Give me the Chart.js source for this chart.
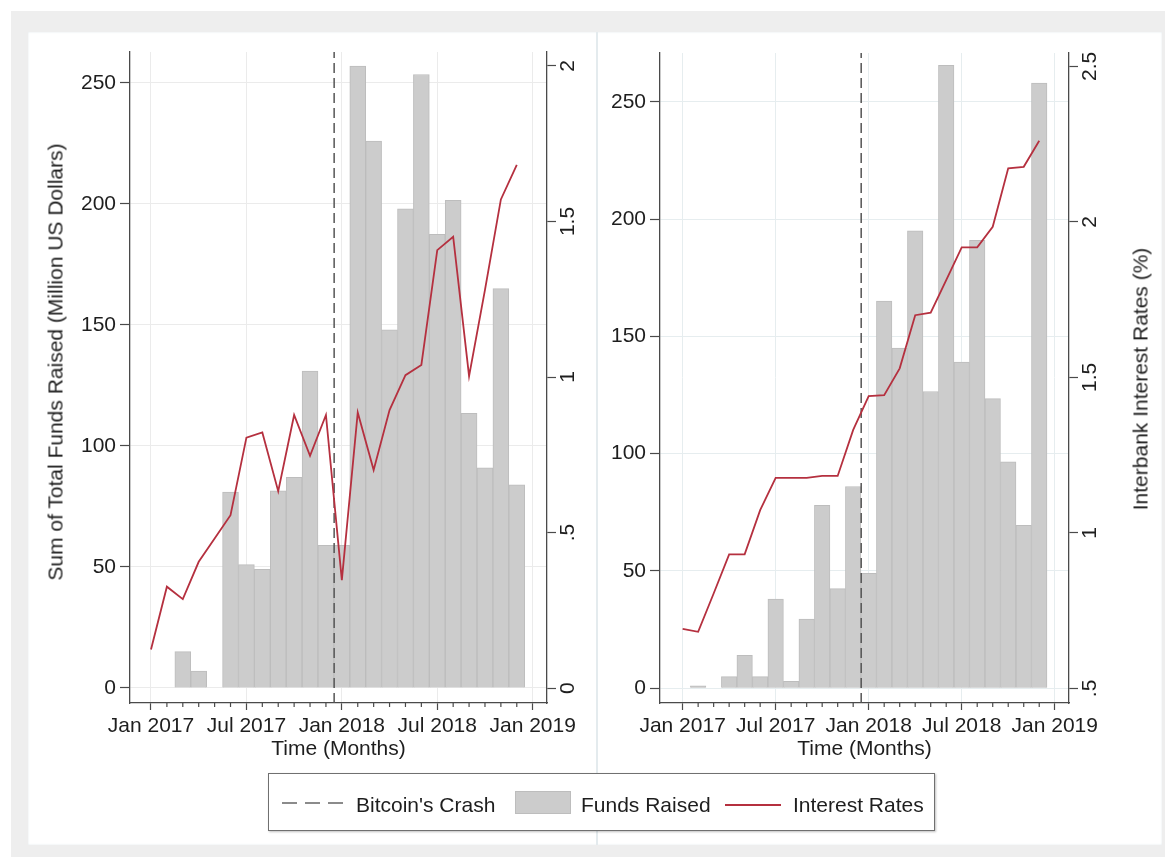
<!DOCTYPE html>
<html>
<head>
<meta charset="utf-8">
<script src="https://cdn.jsdelivr.net/npm/chart.js@4.4.0/dist/chart.umd.min.js"></script>
<style>
  html, body { margin: 0; padding: 0; background: #ffffff; }
  body { width: 1165px; height: 857px; position: relative; overflow: hidden;
         font-family: "Liberation Sans", Arial, Helvetica, sans-serif; color: #1e1e1e; }
  #frame { position: absolute; left: 11px; top: 11px; width: 1154px; height: 846px; background: #eeeeee; }
  #sheet { position: absolute; left: 28px; top: 32px; width: 1134px; height: 813px; background: #ffffff;
           box-shadow: inset 0 0 2px #dbe4e8; }
  #divider { position: absolute; left: 596px; top: 32px; width: 2px; height: 813px; background: #e4ebee; }
  canvas { position: absolute; }
  #cL { left: 28px; top: 32px; }
  #cR { left: 599px; top: 32px; }
  .ytitle { position: absolute; font-size: 21px; line-height: 1; white-space: nowrap; color: #1e1e1e;
            transform: translate(-50%, -50%) rotate(-90deg); }
  #legend { position: absolute; left: 268px; top: 773px; width: 665px; height: 56px; background: #fff;
            border: 1.5px solid #707070; box-shadow: 1px 1px 2px rgba(0,0,0,0.25); }
  .lg { position: absolute; font-size: 21px; line-height: 1; white-space: nowrap; color: #1e1e1e; }
  .sw { position: absolute; }
</style>
</head>
<body>
<div id="frame"></div>
<div id="sheet"></div>
<div id="divider"></div>
<canvas id="cL" width="569" height="740"></canvas>
<canvas id="cR" width="563" height="740"></canvas>
<div class="ytitle" style="left:55px; top:362px;">Sum of Total Funds Raised (Million US Dollars)</div>
<div class="ytitle" style="left:1140px; top:379px;">Interbank Interest Rates (%)</div>

<div id="legend"></div>
<svg class="sw" style="left:282px; top:798px;" width="62" height="10">
  <line x1="0" y1="5" x2="62" y2="5" stroke="#666" stroke-width="1.6" stroke-dasharray="15 8"/>
</svg>
<div class="lg" style="left:356px; top:794px;">Bitcoin's Crash</div>
<div class="sw" style="left:515px; top:791px; width:56px; height:23px; background:#cccccc; border:1px solid #bdbdbd; box-sizing:border-box;"></div>
<div class="lg" style="left:581px; top:794px;">Funds Raised</div>
<svg class="sw" style="left:725px; top:800px;" width="56" height="10">
  <line x1="0" y1="5" x2="56" y2="5" stroke="#b5303f" stroke-width="1.8"/>
</svg>
<div class="lg" style="left:793px; top:794px;">Interest Rates</div>

<script>
// Months on the x axis: index 0 = Jan 2017 ... 23 = Dec 2018
const months = ['Jan 2017','Feb 2017','Mar 2017','Apr 2017','May 2017','Jun 2017',
                'Jul 2017','Aug 2017','Sep 2017','Oct 2017','Nov 2017','Dec 2017',
                'Jan 2018','Feb 2018','Mar 2018','Apr 2018','May 2018','Jun 2018',
                'Jul 2018','Aug 2018','Sep 2018','Oct 2018','Nov 2018','Dec 2018'];
const xTickMonths = [0, 6, 12, 18, 24];
const xTickLabels = ['Jan 2017', 'Jul 2017', 'Jan 2018', 'Jul 2018', 'Jan 2019'];

// Bitcoin's crash: 17 Dec 2017
const crashMonth = 11 + 16 / 31;

// Left panel
const fundsLeft = [null, null, 15, 7, null, 81, 51, 49, 81.5, 87, 131, 59,
                   59, 257, 226, 148, 198, 253.5, 187.5, 201.5, 113.5, 91, 165, 84];
const ratesLeft = [0.124, 0.326, 0.286, 0.406, 0.481, 0.556, 0.805, 0.822, 0.633, 0.878, 0.747, 0.878,
                   0.347, 0.886, 0.701, 0.894, 1.006, 1.039, 1.408, 1.451, 1.003, 1.28, 1.571, 1.682];
const fundTicksLeft = [0, 50, 100, 150, 200, 250];
const rateTicksLeft = [0, 0.5, 1, 1.5, 2];
const rateTickLabelsLeft = ['0', '.5', '1', '1.5', '2'];

// Right panel
const fundsRight = [null, 1, null, 5, 14, 5, 38, 3, 29.5, 78, 42.5, 86,
                    49, 165, 145, 195, 126.5, 265.5, 139, 191, 123.5, 96.5, 69.5, 258];
const ratesRight = [0.691, 0.682, 0.805, 0.931, 0.931, 1.073, 1.177, 1.177, 1.177, 1.183, 1.183, 1.331,
                    1.44, 1.443, 1.529, 1.7, 1.708, 1.813, 1.918, 1.918, 1.984, 2.172, 2.177, 2.261];
const fundTicksRight = [0, 50, 100, 150, 200, 250];
const rateTicksRight = [0.5, 1, 1.5, 2, 2.5];
const rateTickLabelsRight = ['.5', '1', '1.5', '2', '2.5'];

const FONT = { family: '"Liberation Sans", Arial, Helvetica, sans-serif', size: 21 };
const TEXT = '#1e1e1e';
const AXIS = '#4a4a4a';
const BAR_FILL = '#cccccc';
const BAR_EDGE = '#bdbdbd';
const RATE_COLOR = '#b5303f';

// Short monthly ticks between the labelled ones
const minorMonthTicks = {
  id: 'minorMonthTicks',
  afterDraw(chart) {
    const s = chart.scales.x;
    const ctx = chart.ctx;
    ctx.save();
    ctx.strokeStyle = AXIS;
    ctx.lineWidth = 1.2;
    months.forEach((m, i) => {
      if (xTickMonths.includes(i)) return;
      const px = s.getPixelForValue(i);
      ctx.beginPath();
      ctx.moveTo(px, s.top);
      ctx.lineTo(px, s.top + 4);
      ctx.stroke();
    });
    ctx.restore();
  }
};

function panel(canvasId, p) {
  const pts = arr => arr.map((v, i) => ({ x: i, y: v }));
  return new Chart(document.getElementById(canvasId), {
    type: 'bar',
    data: {
      datasets: [
        {
          type: 'line', label: "Bitcoin's Crash", order: 2, yAxisID: 'y',
          data: [{ x: crashMonth, y: p.yRange[0] }, { x: crashMonth, y: p.yRange[1] }],
          borderColor: '#555555', borderWidth: 1.5, borderDash: [10, 5], pointRadius: 0
        },
        {
          type: 'bar', label: 'Funds Raised', order: 3, yAxisID: 'y',
          data: pts(p.funds),
          backgroundColor: BAR_FILL, borderColor: BAR_EDGE, borderWidth: 1,
          categoryPercentage: 1, barPercentage: 1
        },
        {
          type: 'line', label: 'Interest Rates', order: 1, yAxisID: 'y1',
          data: pts(p.rates),
          borderColor: RATE_COLOR, borderWidth: 1.8, pointRadius: 0, tension: 0
        }
      ]
    },
    options: {
      responsive: false,
      animation: false,
      events: [],
      layout: { padding: { left: 0, right: 0, top: p.top, bottom: p.bottom } },
      plugins: { legend: { display: false }, tooltip: { enabled: false } },
      scales: {
        x: {
          type: 'linear', min: p.xRange[0], max: p.xRange[1], offset: false,
          grid: { offset: false, color: p.grid, tickColor: AXIS, tickLength: 7, tickWidth: 1.2 },
          border: { display: true, color: AXIS, width: 1.3 },
          ticks: { font: FONT, color: TEXT, padding: 4, maxRotation: 0, autoSkip: false,
                   callback: v => xTickLabels[xTickMonths.indexOf(v)] },
          afterBuildTicks: s => { s.ticks = xTickMonths.map(v => ({ value: v })); },
          afterFit: s => { s.height = p.xHeight; },
          title: { display: true, text: 'Time (Months)', font: FONT, color: TEXT,
                   padding: { top: 0, bottom: 0 } }
        },
        y: {
          position: 'left', min: p.yRange[0], max: p.yRange[1],
          grid: { color: p.grid, tickColor: AXIS, tickLength: 10, tickWidth: 1.2 },
          border: { display: true, color: AXIS, width: 1.3 },
          ticks: { font: FONT, color: TEXT, padding: 4, callback: v => String(v) },
          afterBuildTicks: s => { s.ticks = p.fundTicks.map(v => ({ value: v })); },
          afterFit: s => { s.width = p.yWidth; }
        },
        y1: {
          position: 'right', min: p.rRange[0], max: p.rRange[1],
          grid: { drawOnChartArea: false, tickColor: AXIS, tickLength: 9, tickWidth: 1.2 },
          border: { display: true, color: AXIS, width: 1.3 },
          ticks: { font: FONT, color: TEXT, padding: -2, minRotation: 90, maxRotation: 90,
                   crossAlign: 'center',
                   callback: v => p.rateLabels[p.rateTicks.indexOf(v)] },
          afterBuildTicks: s => { s.ticks = p.rateTicks.map(v => ({ value: v })); },
          afterFit: s => { s.width = p.y1Width; }
        }
      }
    },
    plugins: [minorMonthTicks]
  });
}

panel('cL', {
  funds: fundsLeft, rates: ratesLeft,
  fundTicks: fundTicksLeft, rateTicks: rateTicksLeft, rateLabels: rateTickLabelsLeft,
  xRange: [-1.32, 24.9], yRange: [-6.2, 262.8], rRange: [-0.048, 2.045],
  yWidth: 102, y1Width: 50, xHeight: 58.6, top: 20, bottom: 10.4, grid: '#ebebeb'
});

panel('cR', {
  funds: fundsRight, rates: ratesRight,
  fundTicks: fundTicksRight, rateTicks: rateTicksRight, rateLabels: rateTickLabelsRight,
  xRange: [-1.46, 24.92], yRange: [-6.27, 270.8], rRange: [0.453, 2.543],
  yWidth: 61, y1Width: 93, xHeight: 58.6, top: 21, bottom: 10.4, grid: '#e6edef'
});
</script>
</body>
</html>
